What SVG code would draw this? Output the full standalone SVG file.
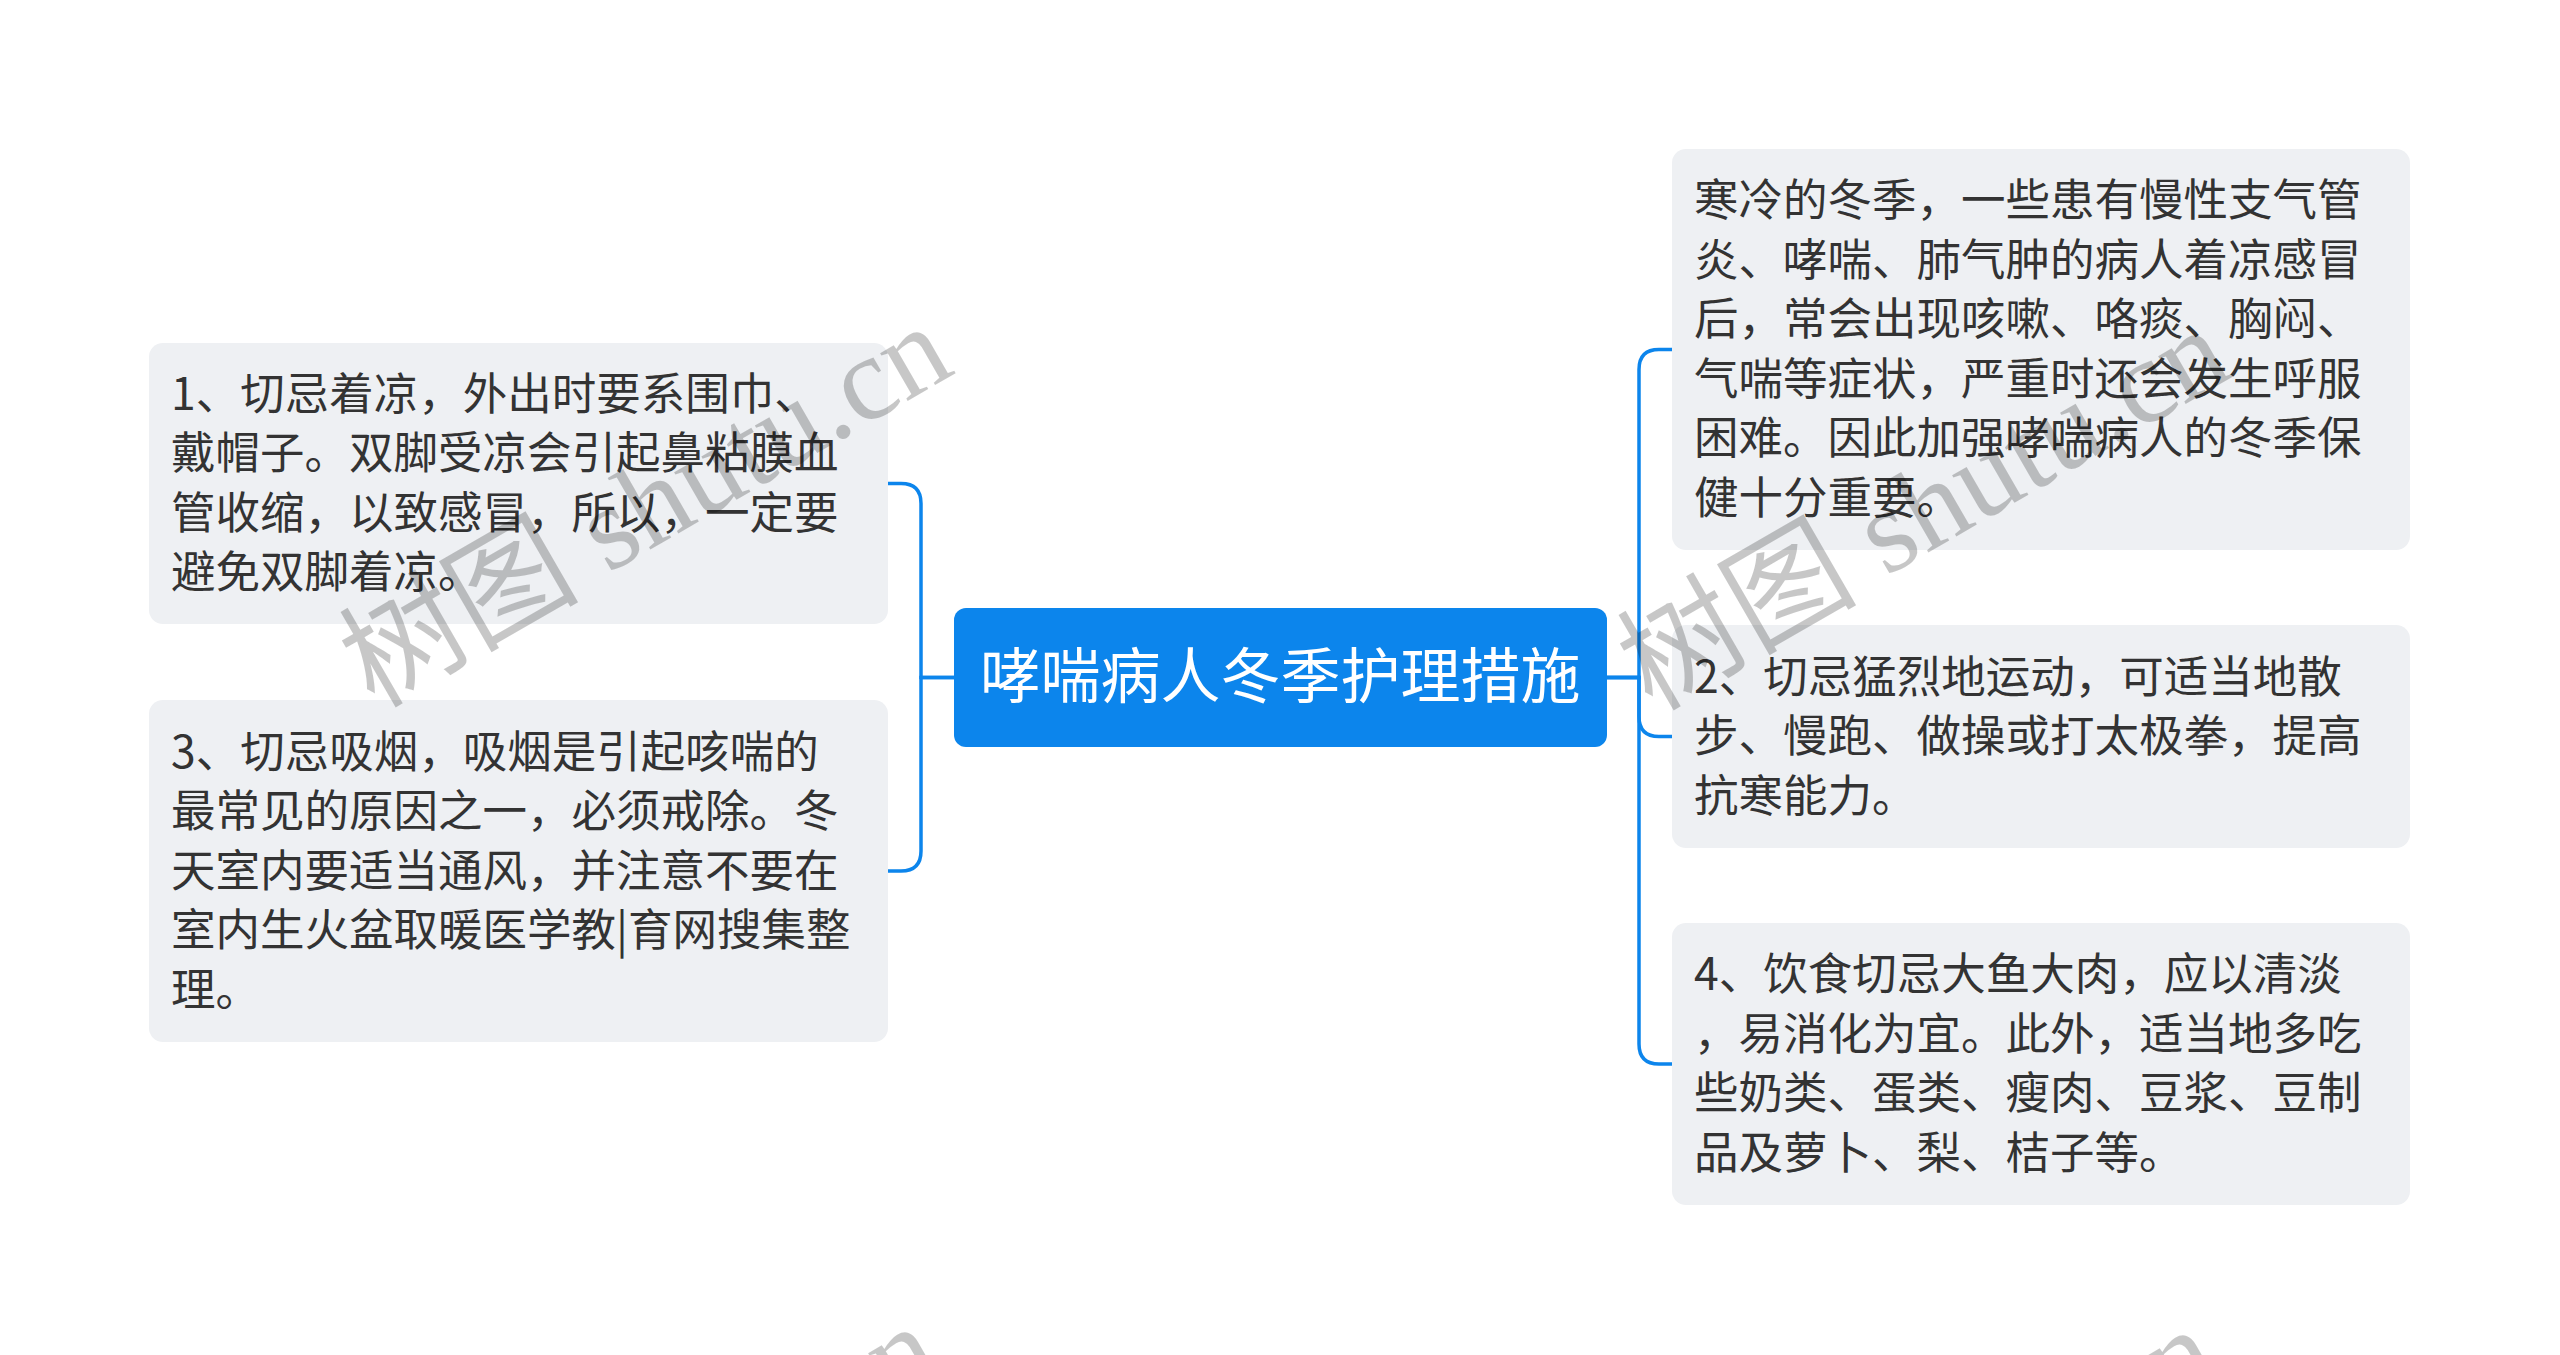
<svg xmlns="http://www.w3.org/2000/svg" width="2560" height="1355" viewBox="0 0 2560 1355">
<style>
.node{fill:#EEF0F3;}
.txt{font-family:"Noto Sans CJK SC","Noto Sans",sans-serif;font-size:44.5px;fill:#333333;}
.root{fill:#0C85EC;}
.roottxt{font-family:"Noto Sans CJK SC","Noto Sans",sans-serif;font-size:60px;fill:#FFFFFF;}
.conn{fill:none;stroke:#0C85EC;stroke-width:3.5;}
.wm{font-family:"Liberation Serif","Noto Sans CJK SC",serif;font-size:120px;fill:#000000;fill-opacity:0.22;}
</style>
<rect width="2560" height="1355" fill="#FFFFFF"/>
<g id="connectors">
<path class="conn" d="M954 677.5 H921 V503.5 Q921 483.5 901 483.5 H888"/>
<path class="conn" d="M954 677.5 H921 V851 Q921 871 901 871 H888"/>
<path class="conn" d="M1607 677.5 H1639 V369.5 Q1639 349.5 1659 349.5 H1672"/>
<path class="conn" d="M1607 677.5 H1639 V716.5 Q1639 736.5 1659 736.5 H1672"/>
<path class="conn" d="M1607 677.5 H1639 V1044 Q1639 1064 1659 1064 H1672"/>
</g>
<g id="root">
<rect class="root" x="954" y="608" width="653" height="139" rx="12"/>
<text class="roottxt" x="1280.5" y="698" text-anchor="middle">哮喘病人冬季护理措施</text>
</g>
<g id="node1">
<rect class="node" x="149" y="343" width="739" height="281" rx="14"/>
<text class="txt"><tspan x="171" y="409.75">1、切忌着凉，外出时要系围巾、</tspan><tspan x="171" y="469.25">戴帽子。双脚受凉会引起鼻粘膜血</tspan><tspan x="171" y="528.75">管收缩，以致感冒，所以，一定要</tspan><tspan x="171" y="588.25">避免双脚着凉。</tspan></text>
</g>
<g id="node3">
<rect class="node" x="149" y="700" width="739" height="342" rx="14"/>
<text class="txt"><tspan x="171" y="767.5">3、切忌吸烟，吸烟是引起咳喘的</tspan><tspan x="171" y="827">最常见的原因之一，必须戒除。冬</tspan><tspan x="171" y="886.5">天室内要适当通风，并注意不要在</tspan><tspan x="171" y="946">室内生火盆取暖医学教|育网搜集整</tspan><tspan x="171" y="1005.5">理。</tspan></text>
</g>
<g id="nodeA">
<rect class="node" x="1672" y="149" width="738" height="401" rx="14"/>
<text class="txt"><tspan x="1694" y="216.25">寒冷的冬季，一些患有慢性支气管</tspan><tspan x="1694" y="275.75">炎、哮喘、肺气肿的病人着凉感冒</tspan><tspan x="1694" y="335.25">后，常会出现咳嗽、咯痰、胸闷、</tspan><tspan x="1694" y="394.75">气喘等症状，严重时还会发生呼服</tspan><tspan x="1694" y="454.25">困难。因此加强哮喘病人的冬季保</tspan><tspan x="1694" y="513.75">健十分重要。</tspan></text>
</g>
<g id="node2">
<rect class="node" x="1672" y="625" width="738" height="223" rx="14"/>
<text class="txt"><tspan x="1694" y="692.5">2、切忌猛烈地运动，可适当地散</tspan><tspan x="1694" y="752">步、慢跑、做操或打太极拳，提高</tspan><tspan x="1694" y="811.5">抗寒能力。</tspan></text>
</g>
<g id="node4">
<rect class="node" x="1672" y="923" width="738" height="282" rx="14"/>
<text class="txt"><tspan x="1694" y="990.25">4、饮食切忌大鱼大肉，应以清淡</tspan><tspan x="1694" y="1049.75">，易消化为宜。此外，适当地多吃</tspan><tspan x="1694" y="1109.25">些奶类、蛋类、瘦肉、豆浆、豆制</tspan><tspan x="1694" y="1168.75">品及萝卜、梨、桔子等。</tspan></text>
</g>
<g id="watermark">
<text class="wm" transform="translate(374,709) rotate(-30)">树图 shutu.cn</text>
<text class="wm" transform="translate(1652,712) rotate(-30)">树图 shutu.cn</text>
<text class="wm" transform="translate(362,1709) rotate(-30)">树图 shutu.cn</text>
<text class="wm" transform="translate(1640,1712) rotate(-30)">树图 shutu.cn</text>
</g>
</svg>
